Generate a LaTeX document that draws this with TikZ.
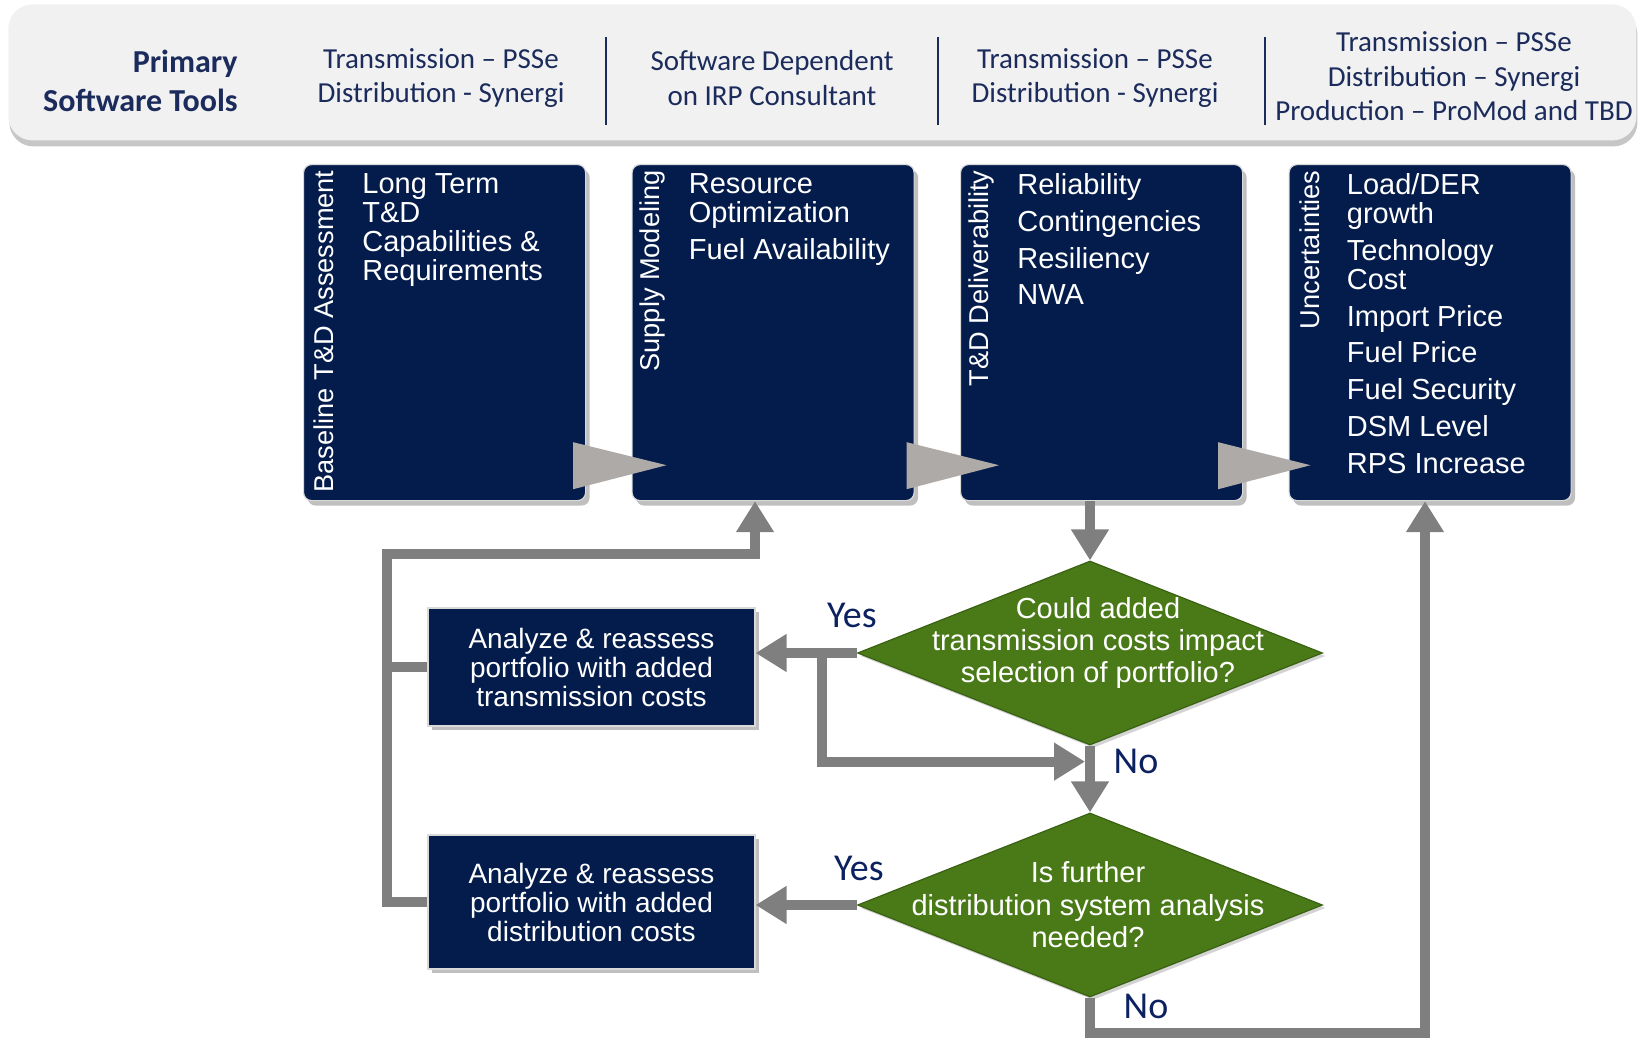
\documentclass[tikz,border=0pt]{standalone}
\usepackage{fontspec}
\setmainfont{Carlito}
\newfontfamily\arialf{Liberation Sans}
\usetikzlibrary{calc, shapes.geometric, arrows.meta, shadows}
\definecolor{boxnavy}{HTML}{041C4C}
\definecolor{headnavy}{HTML}{1B2B5B}
\definecolor{labnavy}{HTML}{0B2160}
\definecolor{askgreen}{HTML}{4A7A18}
\definecolor{askedge}{HTML}{3A6112}
\definecolor{linegray}{HTML}{7F7F7F}
\definecolor{trigray}{HTML}{ADAAA8}
\definecolor{barfill}{HTML}{F1F1F1}
\tikzstyle{bar}      = [rectangle, rounded corners=12pt, fill=barfill, draw=none, drop shadow={shadow xshift=0.5pt, shadow yshift=-3pt, opacity=.45}]
\tikzstyle{hdr}      = [align=center, inner sep=0, text=headnavy, font=\fontsize{14.5}{17.25}\selectfont]
\tikzstyle{stage}    = [rectangle, rounded corners=4pt, minimum width=141pt, minimum height=168pt, fill=boxnavy, draw=gray!30, line width=.6pt, drop shadow={shadow xshift=2pt, shadow yshift=-2.5pt, opacity=.5}]
\tikzstyle{side}     = [rotate=90, anchor=east, inner sep=0, text=white, font=\arialf\fontsize{13.6}{15}\selectfont]
\tikzstyle{items}    = [anchor=north west, align=left, inner sep=0, text=white, font=\arialf\fontsize{14.5}{14.5}\selectfont]
\tikzstyle{task}     = [rectangle, minimum width=163.5pt, minimum height=59pt, fill=boxnavy, draw=gray!30, line width=.6pt, align=center, text=white, font=\arialf\fontsize{14}{14.5}\selectfont, drop shadow={shadow xshift=2pt, shadow yshift=-2pt, opacity=.5}]
\tikzstyle{decision} = [diamond, minimum width=232.5pt, minimum height=92pt, inner sep=0, fill=askgreen, draw=askedge, line width=.6pt, drop shadow={shadow xshift=1.5pt, shadow yshift=-1.5pt, opacity=.35}]
\tikzstyle{ask}      = [align=center, inner sep=0, text=white, font=\arialf\fontsize{14.5}{16.2}\selectfont]
\tikzstyle{yesno}    = [inner sep=0, text=labnavy, font=\fontsize{19}{22}\selectfont]
\tikzstyle{flow}     = [draw=linegray, line width=5pt, line join=miter, -{Triangle[length=15.5pt, width=18pt]}]
\tikzstyle{link}     = [draw=linegray, line width=5pt]
\tikzstyle{tri}      = [fill=trigray]

\begin{document}
\begin{tikzpicture}[x=0.5pt, y=-0.5pt, node distance=164.25pt]
  \useasboundingbox (0,0) rectangle (1639,1038);

  % header band
  \node (bar) [bar, anchor=north west, minimum width=814pt, minimum height=68pt] at (8,4) {};
  \node (hd0) [hdr, anchor=east, align=right, font=\bfseries\fontsize{16}{19.5}\selectfont] at (238,81) {Primary\\Software Tools};
  \node (hd1) [hdr] at (441,78)   {Transmission -- PSSe\\Distribution - Synergi};
  \node (hd2) [hdr] at (772,78)   {Software Dependent\\on IRP Consultant};
  \node (hd3) [hdr] at (1095,78)  {Transmission -- PSSe\\Distribution - Synergi};
  \node (hd4) [hdr] at (1454,76.5) {Transmission -- PSSe\\Distribution -- Synergi\\Production -- ProMod and TBD};
  \draw [headnavy, line width=.8pt] (606,37) -- (606,125);
  \draw [headnavy, line width=.8pt] (938,37) -- (938,125);
  \draw [headnavy, line width=.8pt] (1265,37) -- (1265,125);

  % stage boxes
  \node (b1) [stage, anchor=north west] at (303,164) {};
  \node (b2) [stage, right of=b1] {};
  \node (b3) [stage, right of=b2] {};
  \node (b4) [stage, right of=b3] {};

  \node (l1) [side] at ($(b1.north west)+(21,6)$) {Baseline T\&D Assessment};
  \node (l2) [side] at ($(b2.north west)+(21,6)$) {Supply Modeling};
  \node (l3) [side] at ($(b3.north west)+(21,6)$) {T\&D Deliverability};
  \node (l4) [side] at ($(b4.north west)+(21,6)$) {Uncertainties};

  \node (t1) [items] at ($(b1.north west)+(59,9)$) {Long Term\\T\&D\\Capabilities \&\\Requirements};
  \node (t2) [items] at ($(b2.north west)+(57,9)$) {Resource\\Optimization\\[3.9pt]Fuel Availability};
  \node (t3) [items] at ($(b3.north west)+(57,9)$) {Reliability\\[3.9pt]Contingencies\\[3.9pt]Resiliency\\[3.9pt]NWA};
  \node (t4) [items] at ($(b4.north west)+(58,9)$) {Load/DER\\growth\\[3.9pt]Technology\\Cost\\[3.9pt]Import Price\\[3.9pt]Fuel Price\\[3.9pt]Fuel Security\\[3.9pt]DSM Level\\[3.9pt]RPS Increase};

  \fill [tri] ($(b1.south east)+(-13,-59)$) -- ($(b1.south east)+(-13,-12)$) -- ($(b2.south west)+(35,-36)$) -- cycle;
  \fill [tri] ($(b2.south east)+(-8,-59)$)  -- ($(b2.south east)+(-8,-12)$)  -- ($(b3.south west)+(39,-36)$) -- cycle;
  \fill [tri] ($(b3.south east)+(-25,-59)$) -- ($(b3.south east)+(-25,-12)$) -- ($(b4.south west)+(22,-36)$) -- cycle;

  % decisions
  \node (q1) [decision] at (1090,653) {};
  \node (q2) [decision, below of=q1, node distance=126pt] {};
  \node (q1t) [ask] at ($(q1.center)+(8,-10)$) {Could added\\transmission costs impact\\selection of portfolio?};
  \node (q2t) [ask] at ($(q2.center)+(-2,0)$) {Is further\\distribution system analysis\\needed?};

  \node (a1) [task] at (591.5,667) {Analyze \& reassess\\portfolio with added\\transmission costs};
  \node (a2) [task, below of=a1, node distance=117.5pt, minimum height=67pt] {Analyze \& reassess\\portfolio with added\\distribution costs};

  \node (y1) [yesno] at ($(q1.west)+(-5,-38)$) {Yes};
  \node (n1) [yesno] at ($(q1.south)+(46,16)$) {No};
  \node (y2) [yesno] at ($(q2.west)+(2,-37)$) {Yes};
  \node (n2) [yesno] at ($(q2.south)+(56,9)$) {No};

  \coordinate (j1) at ($(q1.west)+(-35,0)$);
  \coordinate (m1) at ($(q1.south)+(0,16)$);
  \coordinate (up1) at (755,554);
  \coordinate (dn) at (1425,1033);

  \draw [flow] (b3.south -| q1.north) -- (q1.north);
  \draw [flow] (q1.west) -- (q1.west -| a1.east);
  \draw [flow, shorten >=2.5pt] (j1) |- (m1);
  \draw [flow] (q1.south) -- (q2.north);
  \draw [flow] (q2.west) -- (q2.west -| a2.east);
  \draw [link] (a1.west) -- ++(-40,0);
  \draw [flow] (a2.west) -- ++(-40,0) |- (up1) -- (up1 |- b2.south);
  \draw [flow] (q2.south) |- (dn) -- (dn |- b4.south);

\end{tikzpicture}
\end{document}
